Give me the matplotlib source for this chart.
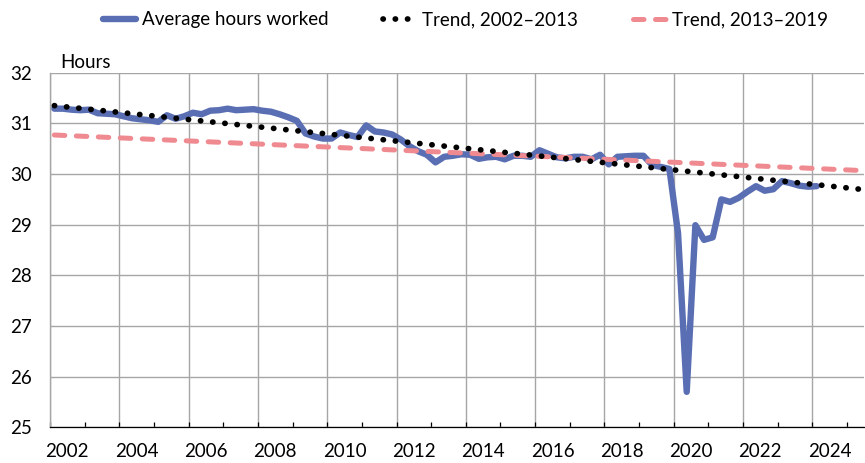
import numpy as np
import pandas as pd
import matplotlib
matplotlib.use('Agg')
import matplotlib.pyplot as plt

# quarterly average hours worked, 2002Q1 onwards
hours = [31.29, 31.29, 31.27, 31.26, 31.27, 31.20, 31.19, 31.18,
         31.14, 31.10, 31.08, 31.06, 31.03, 31.16, 31.09, 31.14,
         31.21, 31.18, 31.25, 31.26, 31.29, 31.26, 31.27, 31.28,
         31.25, 31.23, 31.18, 31.12, 31.05, 30.80, 30.74, 30.70,
         30.70, 30.82, 30.77, 30.73, 30.96, 30.84, 30.82, 30.78,
         30.68, 30.55, 30.45, 30.38, 30.23, 30.34, 30.36, 30.39,
         30.38, 30.30, 30.33, 30.34, 30.29, 30.36, 30.36, 30.34,
         30.47, 30.40, 30.33, 30.31, 30.34, 30.34, 30.29, 30.38,
         30.19, 30.34, 30.35, 30.36, 30.36, 30.18, 30.14, 30.10,
         28.83, 25.70, 28.99, 28.70, 28.75, 29.50, 29.45, 29.53,
         29.65, 29.76, 29.67, 29.70, 29.86, 29.82, 29.77, 29.75,
         29.76]
first_quarter = '2002Q1'

# straight trend lines, read at their two ends
trend_quarters = ['2002Q1', '2025Q2']
trend_0213 = [31.35, 29.70]
trend_1319 = [30.77, 30.07]

year_labels = list(range(2002, 2025, 2))
y_ticks = list(range(25, 33))

BLUE = '#5a6fb3'
PINK = '#f08a91'
GRID = '#a6a6a6'


def qpos(p):
    # centre of the quarter, in years
    return p.year + (p.quarter - 0.5) / 4


plt.rcParams['font.family'] = ['Lato', 'DejaVu Sans']
plt.rcParams['font.size'] = 13.5

quarters = pd.period_range(first_quarter, periods=len(hours), freq='Q')
x = [qpos(p) for p in quarters]
xt = [qpos(pd.Period(q, freq='Q')) for q in trend_quarters]

fig = plt.figure(figsize=(8.65, 4.63), dpi=100)
ax = fig.add_axes([50 / 865, 1 - 427.3 / 463, (864.3 - 50) / 865, (427.3 - 72.7) / 463])

ax.plot(x, hours, color=BLUE, lw=4.6, solid_capstyle='round',
        solid_joinstyle='round', label='Average hours worked', zorder=3)
ax.plot(xt, trend_1319, color=PINK, lw=3.6, ls=(0, (2.1, 2.3)),
        dash_capstyle='round', label='Trend, 2013\u20132019', zorder=4)
ax.plot(xt, trend_0213, color='black', lw=4.1, ls=(0, (0.05, 2.1)),
        dash_capstyle='round', label='Trend, 2002\u20132013', zorder=5)

ax.set_xlim(2002, 2025.5)
ax.set_ylim(25, 32)

ax.set_yticks(y_ticks)
ax.tick_params(axis='y', length=0, pad=13)
ax.set_xticks(np.arange(2002, 2026, 2))
ax.set_xticks(np.arange(2003, 2026, 2), minor=True)
ax.tick_params(axis='x', which='both', direction='in', length=3.4,
               width=0.9, labelbottom=False)
ax.grid(True, axis='both', which='major', color=GRID, lw=1.0)
ax.set_axisbelow(True)

sec = ax.secondary_xaxis('bottom')
sec.set_xticks([y + 0.5 for y in year_labels])
sec.set_xticklabels([str(y) for y in year_labels])
sec.tick_params(length=0, pad=11)
sec.spines['bottom'].set_visible(False)

for s in ['top', 'right']:
    ax.spines[s].set_visible(False)
ax.spines['left'].set_color(GRID)
ax.spines['left'].set_linewidth(1.0)
ax.spines['bottom'].set_color('black')
ax.spines['bottom'].set_linewidth(0.9)

ax.text(0.013, 1.004, 'Hours', transform=ax.transAxes, ha='left', va='bottom')

h, l = ax.get_legend_handles_labels()
order = [0, 2, 1]
fig.legend([h[i] for i in order], [l[i] for i in order], loc='center',
           bbox_to_anchor=(0.538, 0.957), ncol=3, frameon=False,
           handlelength=1.8, handletextpad=0.3, columnspacing=2.9,
           borderaxespad=0)

fig.savefig('out.png', dpi=100)
